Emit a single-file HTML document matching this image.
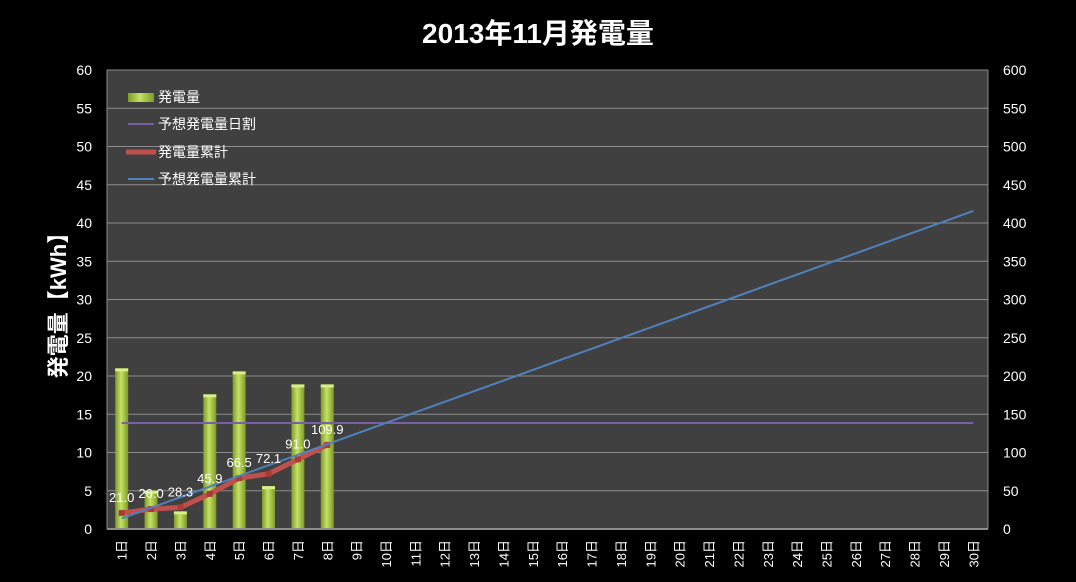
<!DOCTYPE html>
<html><head><meta charset="utf-8"><style>
html,body{margin:0;padding:0;background:#000;}
svg{display:block;font-family:"Liberation Sans","Noto Sans CJK JP",sans-serif;}
</style></head><body>
<svg id="chart" width="1076" height="582">
<defs>
<linearGradient id="barg" x1="0" x2="1" y1="0" y2="0">
<stop offset="0" stop-color="#7d9a25"/><stop offset="0.45" stop-color="#c4e266"/><stop offset="1" stop-color="#7d9a25"/>
</linearGradient>
</defs>
<text x="538" y="43" fill="#fff" font-size="28" font-weight="bold" text-anchor="middle">2013年11月発電量</text>
<rect x="107" y="70" width="881" height="459" fill="#404040"/>
<g id="grid"></g>
<g id="bars"></g>
<g id="lines"></g>
<g id="labels"></g>
<g id="axes"></g>
<text transform="translate(66,300) rotate(-90)" fill="#fff" font-size="22" font-weight="bold" text-anchor="middle">発電量【kWh】</text>
<g>
<rect x="128" y="93" width="26" height="9" fill="url(#barg)"/>
<text x="158" y="102" fill="#fff" font-size="14">発電量</text>
<line x1="128" y1="124" x2="154" y2="124" stroke="#7a5fa8" stroke-width="2"/>
<text x="158" y="129" fill="#fff" font-size="14">予想発電量日割</text>
<line x1="126" y1="152" x2="156" y2="152" stroke="#c0504d" stroke-width="5"/>
<text x="158" y="157" fill="#fff" font-size="14">発電量累計</text>
<line x1="128" y1="179" x2="154" y2="179" stroke="#4f81bd" stroke-width="2"/>
<text x="158" y="184" fill="#fff" font-size="14">予想発電量累計</text>
</g>
</svg>
<script>
const categories = ["1日","2日","3日","4日","5日","6日","7日","8日","9日","10日","11日","12日","13日","14日","15日","16日","17日","18日","19日","20日","21日","22日","23日","24日","25日","26日","27日","28日","29日","30日"];
const daily = [21.0,5.0,2.3,17.6,20.6,5.6,18.9,18.9];
const forecastDaily = [13.86,13.86,13.86,13.86,13.86,13.86,13.86,13.86,13.86,13.86,13.86,13.86,13.86,13.86,13.86,13.86,13.86,13.86,13.86,13.86,13.86,13.86,13.86,13.86,13.86,13.86,13.86,13.86,13.86,13.86];
const cumulative = [21.0,26.0,28.3,45.9,66.5,72.1,91.0,109.9];
const forecastCumulative = [13.9,27.7,41.6,55.4,69.3,83.2,97.0,110.9,124.7,138.6,152.5,166.3,180.2,194.0,207.9,221.8,235.6,249.5,263.3,277.2,291.1,304.9,318.8,332.6,346.5,360.4,374.2,388.1,401.9,415.8];
const leftTicks = [0,5,10,15,20,25,30,35,40,45,50,55,60];
const rightTicks = [0,50,100,150,200,250,300,350,400,450,500,550,600];

const NS="http://www.w3.org/2000/svg";
const L=107,R=988,T=70,B=529;
const step=(R-L)/categories.length;
const xc=i=>L+(i+0.5)*step;
const yl=v=>B-(v/60)*(B-T);
const yr=v=>B-(v/600)*(B-T);
function mk(tag,attrs,parent,text){const e=document.createElementNS(NS,tag);for(const k in attrs)e.setAttribute(k,attrs[k]);if(text!==undefined)e.textContent=text;document.getElementById(parent).appendChild(e);return e;}

leftTicks.forEach((t,i)=>{
  if(t>0){const g=mk('line',{x1:L,x2:R,y1:yl(t),y2:yl(t),stroke:'#8c8c8c','stroke-width':1},'grid');
  
  }
  const a=mk('text',{x:92,y:yl(t)+5,fill:'#fff','font-size':14,'text-anchor':'end'},'axes',String(t));
  
  
});
rightTicks.forEach(t=>{
  const a=mk('text',{x:1003,y:yr(t)+5,fill:'#fff','font-size':14},'axes',String(t));
  
  
});
[L,R].forEach(x=>{const a=mk('line',{x1:x,x2:x,y1:T,y2:B,stroke:'#8c8c8c'},'axes');

});
const bx=mk('line',{x1:L,x2:R,y1:B,y2:B,stroke:'#8c8c8c','stroke-width':2},'axes');


categories.forEach((c,i)=>{
  const t=mk('text',{transform:`translate(${xc(i)+5},540) rotate(-90)`,fill:'#fff','font-size':13,'text-anchor':'end'},'axes',c);
  
  
});
daily.forEach((v,i)=>{
  const b=mk('rect',{x:xc(i)-6.5,y:yl(v),width:13,height:B-yl(v),fill:'url(#barg)'},'bars');
  
  
  const cap=mk('rect',{x:xc(i)-6.5,y:yl(v),width:13,height:3,fill:'#d7ef86'},'bars');
  
  
});
function poly(vals,yf,color,w,name){
  const p=mk('polyline',{points:vals.map((v,i)=>xc(i)+','+yf(v)).join(' '),fill:'none',stroke:color,'stroke-width':w,'stroke-linejoin':'round'},'lines');
  
  
}
poly(forecastDaily,yl,'#7a5fa8',2,'forecast-daily-line');
poly(cumulative,yr,'#c0504d',5,'cumulative-line');
cumulative.forEach((v,i)=>{
  const m=mk('rect',{x:xc(i)-3,y:yr(v)-3,width:6,height:6,fill:'#a83a38'},'lines');
  
  
  const t=mk('text',{x:xc(i),y:yr(v)-11,fill:'#fff','font-size':13,'text-anchor':'middle'},'labels',v.toFixed(1));
  
  
});
poly(forecastCumulative,yr,'#4f81bd',2,'forecast-cumulative-line');
</script>
</body></html>
